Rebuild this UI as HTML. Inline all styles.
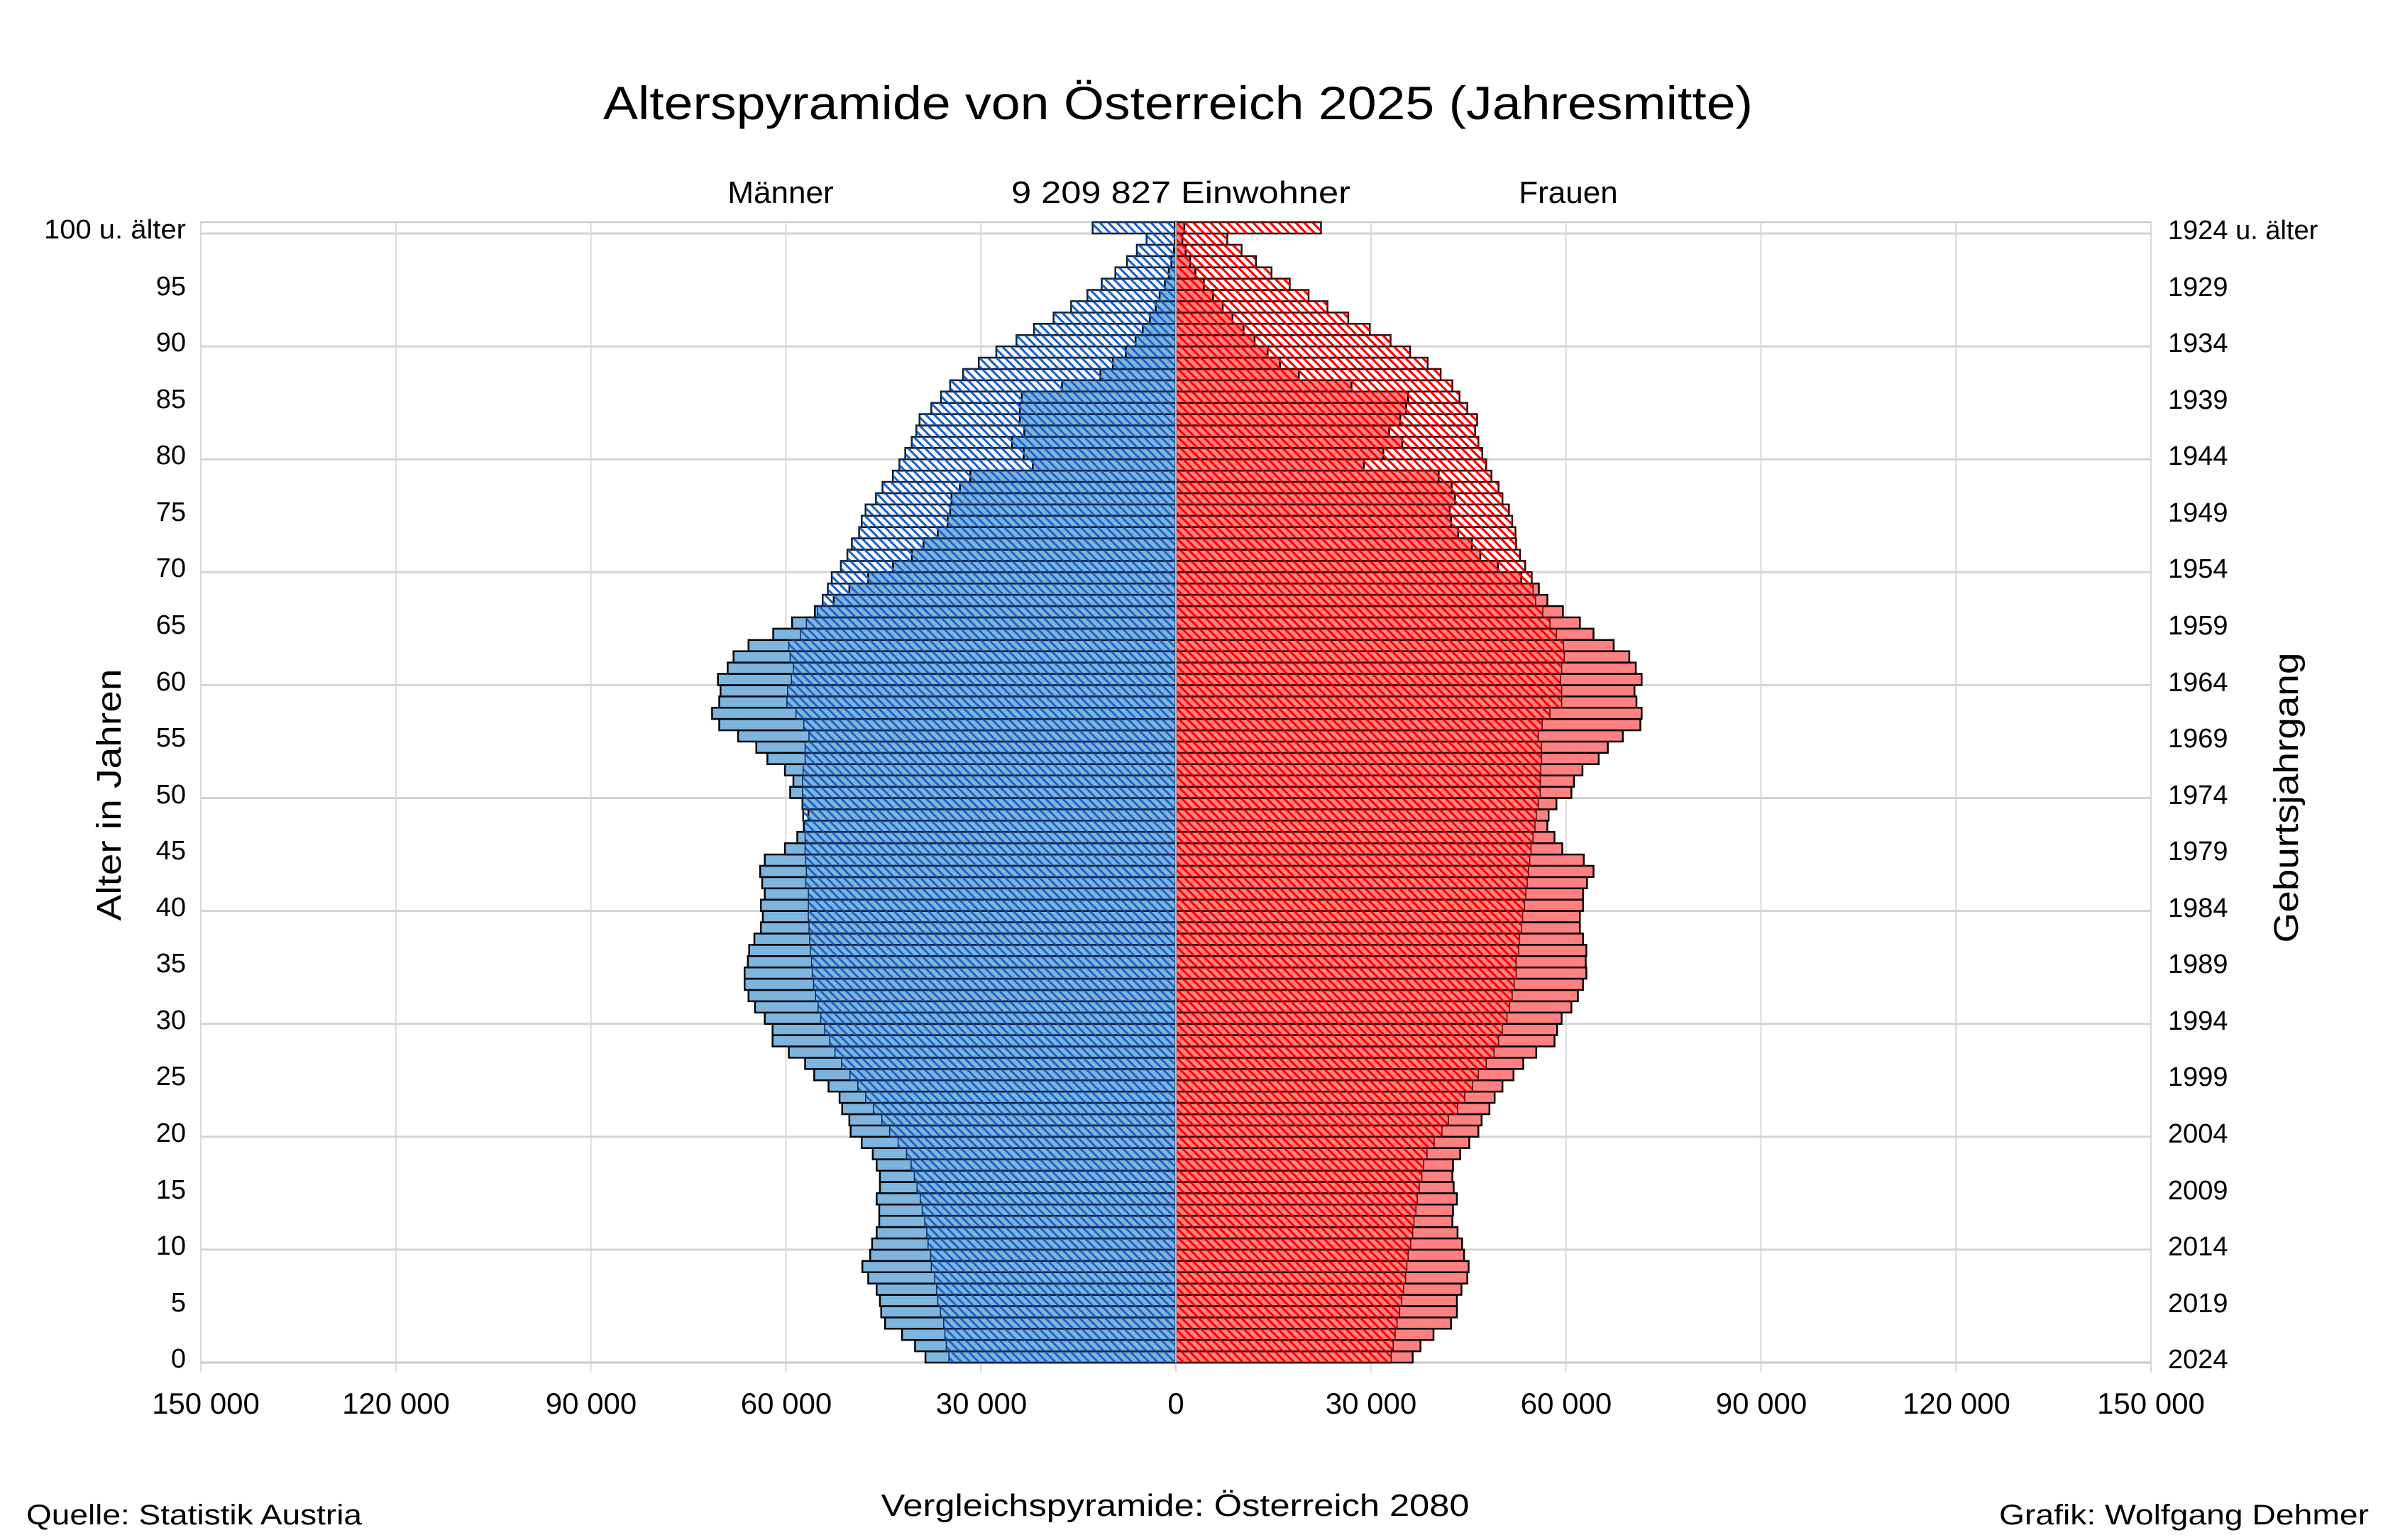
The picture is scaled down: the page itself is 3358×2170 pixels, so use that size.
<!DOCTYPE html>
<html><head><meta charset="utf-8"><style>
html,body{margin:0;padding:0;background:#fff;}
svg{display:block;}
text{font-family:"Liberation Sans",Arial,sans-serif;fill:#000;}
</style></head><body>
<svg id="s" width="3358" height="2170" viewBox="0 0 3358 2170" xmlns="http://www.w3.org/2000/svg">
<defs>
<pattern id="hb" patternUnits="userSpaceOnUse" width="12" height="12">
<path d="M-3,-3 L15,15 M-3,9 L3,15 M9,-3 L15,3" stroke="#1f64c8" stroke-width="3"/>
</pattern>
<pattern id="hr" patternUnits="userSpaceOnUse" width="12" height="12">
<path d="M-3,-3 L15,15 M-3,9 L3,15 M9,-3 L15,3" stroke="#ff0000" stroke-width="3"/>
</pattern>
</defs>
<rect x="0" y="0" width="3358" height="2170" fill="#fff"/>
<text x="1660" y="168" font-size="66" text-anchor="middle" textLength="1620" lengthAdjust="spacingAndGlyphs">Alterspyramide von Österreich 2025 (Jahresmitte)</text>
<text x="1100" y="286" font-size="44" text-anchor="middle">Männer</text>
<text x="1664" y="286" font-size="44" text-anchor="middle" textLength="478" lengthAdjust="spacingAndGlyphs">9 209 827 Einwohner</text>
<text x="2210" y="286" font-size="44" text-anchor="middle">Frauen</text>
<text transform="translate(170,1120) rotate(-90)" font-size="48" text-anchor="middle" textLength="355" lengthAdjust="spacingAndGlyphs">Alter in Jahren</text>
<text transform="translate(3238,1124) rotate(-90)" font-size="48" text-anchor="middle" textLength="409" lengthAdjust="spacingAndGlyphs">Geburtsjahrgang</text>
<text x="37" y="2148" font-size="40" textLength="473" lengthAdjust="spacingAndGlyphs">Quelle: Statistik Austria</text>
<text x="1656" y="2136" font-size="44" text-anchor="middle" textLength="829" lengthAdjust="spacingAndGlyphs">Vergleichspyramide: Österreich 2080</text>
<text x="3338" y="2148" font-size="40" text-anchor="end" textLength="521" lengthAdjust="spacingAndGlyphs">Grafik: Wolfgang Dehmer</text>
<g id="grid"></g>
<g id="bars"></g>
<g font-size="42" text-anchor="middle">
<text x="290" y="1992">150 000</text>
<text x="558" y="1992">120 000</text>
<text x="833" y="1992">90 000</text>
<text x="1108" y="1992">60 000</text>
<text x="1383" y="1992">30 000</text>
<text x="1657" y="1992">0</text>
<text x="1932" y="1992">30 000</text>
<text x="2207" y="1992">60 000</text>
<text x="2482" y="1992">90 000</text>
<text x="2757" y="1992">120 000</text>
<text x="3031" y="1992">150 000</text>
</g>
<g font-size="38" text-anchor="end">
<text x="262" y="1927">0</text>
<text x="262" y="1848">5</text>
<text x="262" y="1768">10</text>
<text x="262" y="1689">15</text>
<text x="262" y="1609">20</text>
<text x="262" y="1529">25</text>
<text x="262" y="1450">30</text>
<text x="262" y="1370">35</text>
<text x="262" y="1291">40</text>
<text x="262" y="1211">45</text>
<text x="262" y="1132">50</text>
<text x="262" y="1052">55</text>
<text x="262" y="973">60</text>
<text x="262" y="893">65</text>
<text x="262" y="813">70</text>
<text x="262" y="734">75</text>
<text x="262" y="654">80</text>
<text x="262" y="575">85</text>
<text x="262" y="495">90</text>
<text x="262" y="416">95</text>
<text x="262" y="336" textLength="200" lengthAdjust="spacingAndGlyphs">100 u. älter</text>
</g>
<g font-size="38" text-anchor="start">
<text x="3055" y="1928">2024</text>
<text x="3055" y="1849">2019</text>
<text x="3055" y="1769">2014</text>
<text x="3055" y="1690">2009</text>
<text x="3055" y="1610">2004</text>
<text x="3055" y="1530">1999</text>
<text x="3055" y="1451">1994</text>
<text x="3055" y="1371">1989</text>
<text x="3055" y="1292">1984</text>
<text x="3055" y="1212">1979</text>
<text x="3055" y="1133">1974</text>
<text x="3055" y="1053">1969</text>
<text x="3055" y="974">1964</text>
<text x="3055" y="894">1959</text>
<text x="3055" y="814">1954</text>
<text x="3055" y="735">1949</text>
<text x="3055" y="655">1944</text>
<text x="3055" y="576">1939</text>
<text x="3055" y="496">1934</text>
<text x="3055" y="417">1929</text>
<text x="3055" y="337">1924 u. älter</text>
</g>
</svg>
<script>
(function(){
var NS="http://www.w3.org/2000/svg";
var cx=1657,k=275/30,bot=1920,bh=15.91,L=283,R=3031,T=313;
function el(p,n,a){var e=document.createElementNS(NS,n);for(var q in a)e.setAttribute(q,a[q]);p.appendChild(e);return e;}
var g=document.getElementById("grid");
el(g,"rect",{x:L,y:T,width:R-L,height:bot-T,fill:"#fff",stroke:"#c8c8c8","stroke-width":2});
for(var i=0;i<=10;i++){var x=L+i*(R-L)/10;el(g,"line",{x1:x,y1:T,x2:x,y2:1934,stroke:"#d8d8d8","stroke-width":2});}
for(var a=10;a<=100;a+=10){var y=bot-a*bh;el(g,"line",{x1:L,y1:y,x2:R,y2:y,stroke:"#d4d4d4","stroke-width":3});}
el(g,"line",{x1:L,y1:bot,x2:R,y2:bot,stroke:"#c8c8c8","stroke-width":3});
var m25=[38.5,40.1,42.1,44.7,45.3,45.5,46.0,47.3,48.2,47.0,46.7,46.0,45.6,45.6,46.0,45.5,45.5,46.0,46.6,48.3,50.0,50.2,51.3,51.7,53.4,55.6,57.0,59.5,62.0,62.0,63.2,64.7,65.7,66.3,66.3,65.8,65.6,64.8,63.8,63.5,63.8,63.2,63.6,63.9,63.2,60.1,58.2,57.2,56.5,57.4,59.3,58.8,60.1,62.8,64.5,67.3,70.2,71.3,70.2,70.0,70.4,68.9,68.0,65.7,61.9,59.0,55.5,52.6,50.2,47.3,43.5,40.6,38.8,36.6,35.1,34.7,34.5,33.2,31.6,22.0,23.4,25.2,23.3,24.0,24.0,23.7,17.5,11.6,9.7,7.7,6.2,5.1,4.0,3.1,2.5,1.7,1.1,0.7,0.3,0.2,0.2];
var m80=[34.9,35.3,35.5,35.7,36.2,36.6,36.8,37.1,37.6,37.7,38.1,38.3,38.6,39.0,39.3,39.8,40.2,40.7,41.4,42.7,44.0,45.2,46.5,47.7,48.9,50.1,51.4,52.4,53.2,54.0,54.6,55.0,55.4,55.7,55.9,56.0,56.2,56.3,56.4,56.5,56.5,56.5,56.9,56.8,56.9,57.0,57.0,57.1,57.3,57.4,57.4,57.4,57.3,57.0,57.0,56.4,57.2,58.4,59.8,59.7,59.1,58.8,59.3,59.5,57.7,56.8,55.1,54.3,53.5,52.9,51.5,50.5,49.8,48.7,48.3,47.7,46.1,45.1,43.5,42.5,41.6,40.6,39.9,39.4,37.6,36.1,34.7,32.7,30.3,27.6,24.5,21.8,18.8,16.1,13.6,11.4,9.3,7.5,6.0,4.5,12.8];
var f25=[36.4,37.6,39.6,42.3,43.2,43.2,43.9,44.8,45.0,44.3,44.0,43.3,42.5,42.6,43.2,42.7,42.5,42.6,43.7,45.1,46.5,47.0,48.2,49.0,50.2,51.9,53.4,55.4,58.2,58.6,59.3,60.8,61.8,62.6,63.1,63.0,63.1,62.6,62.1,62.1,62.6,62.6,63.2,64.2,62.7,59.4,58.2,57.1,57.3,58.5,60.8,61.2,62.5,65.0,66.4,68.7,71.4,71.6,70.8,70.5,71.6,70.7,69.7,67.3,64.2,62.1,59.5,57.1,55.8,53.1,49.5,46.8,45.5,43.4,42.3,42.1,42.9,42.4,40.4,28.9,31.9,34.8,32.8,34.5,35.4,35.7,27.0,18.9,16.0,14.1,12.1,10.4,8.7,7.2,5.7,4.3,3.0,2.2,1.5,1.0,1.3];
var f80=[33.1,33.4,33.7,34.0,34.4,34.7,35.0,35.3,35.5,35.7,36.1,36.4,36.6,36.9,37.1,37.4,37.8,38.1,38.6,39.7,40.9,41.9,43.3,44.4,45.6,46.5,47.7,48.9,49.6,50.2,50.9,51.3,51.7,52.0,52.3,52.3,52.7,52.8,53.1,53.3,53.6,53.8,54.0,54.2,54.4,54.6,54.9,55.2,55.4,55.7,56.0,56.0,56.1,56.2,56.2,55.7,56.3,57.5,59.3,59.3,59.1,59.3,59.7,59.6,58.5,57.5,56.4,55.3,54.9,54.7,53.7,52.9,52.3,52.2,51.7,51.2,50.2,49.6,48.5,47.7,47.1,46.5,46.0,46.3,44.8,43.6,42.5,40.7,38.7,36.0,33.0,29.8,26.5,23.3,20.4,17.5,14.7,12.3,10.1,7.9,22.3];
var b=document.getElementById("bars");
function layer(fn){for(var a=0;a<=100;a++){var y=bot-(a+1)*bh;fn(a,y);}}
function rx(side,v){var w=v*k;return side<0?{x:cx-w,w:w}:{x:cx,w:w};}
layer(function(a,y){[[-1,m80[a],"hb"],[1,f80[a],"hr"]].forEach(function(d){var r=rx(d[0],d[1]);
el(b,"rect",{x:r.x,y:y,width:r.w,height:bh,fill:"#fff"});
el(b,"rect",{x:r.x,y:y,width:r.w,height:bh,fill:"url(#"+d[2]+")",stroke:"#000","stroke-width":2.5});});});
layer(function(a,y){[[-1,m25[a],"#7db5df"],[1,f25[a],"#ff8080"]].forEach(function(d){var r=rx(d[0],d[1]);
el(b,"rect",{x:r.x,y:y,width:r.w,height:bh,fill:d[2],stroke:"#000","stroke-width":2.5});});});
layer(function(a,y){[[-1,m80[a],"hb","#0a2a5a"],[1,f80[a],"hr","#5a0000"]].forEach(function(d){var r=rx(d[0],d[1]);
el(b,"rect",{x:r.x,y:y,width:r.w,height:bh,fill:"url(#"+d[2]+")",stroke:d[3],"stroke-width":1.5});});});
el(b,"line",{x1:cx,y1:T,x2:cx,y2:bot,stroke:"#bbb","stroke-width":2});
})();
</script>
</body></html>
